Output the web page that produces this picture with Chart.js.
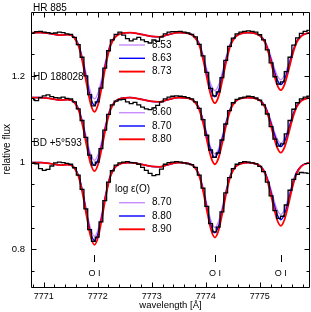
<!DOCTYPE html>
<html><head><meta charset="utf-8">
<script src="https://cdn.jsdelivr.net/npm/chart.js@4/dist/chart.umd.min.js"></script>
<style>html,body{margin:0;padding:0;background:#fff}canvas{display:block}</style>
</head><body>
<canvas id="c" width="311" height="312"></canvas>
<script>
// ---- synthetic spectra (wavelength grid, Angstrom) ----
const modelWave = [7770.77,7770.95,7771.15,7771.30,7771.44,7771.56,7771.65,7771.73,7771.80,7771.87,7771.94,7772.01,7772.08,7772.15,7772.23,7772.32,7772.44,7772.60,7772.80,7773.00,7773.15,7773.30,7773.50,7773.67,7773.79,7773.88,7773.96,7774.03,7774.10,7774.17,7774.24,7774.31,7774.38,7774.46,7774.55,7774.67,7774.78,7774.89,7775.01,7775.10,7775.18,7775.25,7775.32,7775.39,7775.46,7775.53,7775.60,7775.68,7775.77,7775.89,7775.93];

const hrViolet = [1.300,1.300,1.297,1.294,1.2955,1.2908,1.2725,1.2373,1.1975,1.1623,1.147,1.1623,1.1975,1.2373,1.2725,1.2908,1.2985,1.300,1.296,1.291,1.290,1.295,1.300,1.2987,1.292,1.2759,1.2451,1.2102,1.1794,1.166,1.1794,1.2102,1.2451,1.2759,1.292,1.2987,1.300,1.2989,1.2935,1.2804,1.2553,1.227,1.2019,1.191,1.2019,1.227,1.2553,1.2804,1.2935,1.2989,1.300];
const hrBlue = [1.300,1.300,1.297,1.294,1.2953,1.2899,1.2698,1.2311,1.1874,1.1488,1.132,1.1488,1.1874,1.2311,1.2698,1.2899,1.2983,1.300,1.296,1.291,1.290,1.295,1.300,1.2985,1.2911,1.2734,1.2393,1.2008,1.1668,1.152,1.1668,1.2008,1.2393,1.2734,1.2911,1.2985,1.300,1.2988,1.2928,1.2784,1.2508,1.2196,1.192,1.18,1.192,1.2196,1.2508,1.2784,1.2928,1.2988,1.300];
const hrRed = [1.300,1.300,1.297,1.294,1.2952,1.289,1.2671,1.225,1.1774,1.1353,1.117,1.1353,1.1774,1.225,1.2671,1.289,1.2982,1.300,1.296,1.291,1.290,1.295,1.300,1.2984,1.2902,1.2707,1.2332,1.1908,1.1533,1.137,1.1533,1.1908,1.2332,1.2707,1.2902,1.2984,1.300,1.2987,1.292,1.2761,1.2455,1.2109,1.1803,1.167,1.1803,1.2109,1.2455,1.2761,1.292,1.2987,1.300];

const hdViolet = [1.150,1.150,1.147,1.144,1.1455,1.1413,1.1239,1.0905,1.0528,1.0195,1.005,1.0195,1.0528,1.0905,1.1239,1.1413,1.1485,1.150,1.146,1.141,1.140,1.145,1.150,1.1487,1.1422,1.1266,1.0967,1.0629,1.033,1.02,1.033,1.0629,1.0967,1.1266,1.1422,1.1487,1.150,1.1489,1.1437,1.1311,1.1069,1.0796,1.0555,1.045,1.0555,1.0796,1.1069,1.1311,1.1437,1.1489,1.150];
const hdBlue = [1.150,1.150,1.147,1.144,1.1454,1.1406,1.1217,1.0856,1.0448,1.0087,0.993,1.0087,1.0448,1.0856,1.1217,1.1406,1.1484,1.150,1.146,1.141,1.140,1.145,1.150,1.1486,1.1417,1.1252,1.0934,1.0575,1.0258,1.012,1.0258,1.0575,1.0934,1.1252,1.1417,1.1486,1.150,1.1489,1.1432,1.1297,1.1037,1.0743,1.0483,1.037,1.0483,1.0743,1.1037,1.1297,1.1432,1.1489,1.150];
const hdRed = [1.150,1.150,1.147,1.144,1.1453,1.1398,1.1194,1.0803,1.0361,0.997,0.98,0.997,1.0361,1.0803,1.1194,1.1398,1.1483,1.150,1.146,1.141,1.140,1.145,1.150,1.1485,1.1408,1.1223,1.0869,1.0468,1.0114,0.996,1.0114,1.0468,1.0869,1.1223,1.1408,1.1485,1.150,1.1487,1.1424,1.1271,1.0979,1.0649,1.0357,1.023,1.0357,1.0649,1.0979,1.1271,1.1424,1.1487,1.150];

const bdViolet = [1.000,1.000,0.997,0.994,0.9953,0.9898,0.9694,0.9303,0.8861,0.847,0.83,0.847,0.8861,0.9303,0.9694,0.9898,0.9983,1.000,0.996,0.991,0.990,0.995,1.000,0.9985,0.991,0.973,0.9385,0.8995,0.865,0.85,0.865,0.8995,0.9385,0.973,0.991,0.9985,1.000,0.9988,0.9928,0.9784,0.9508,0.9196,0.892,0.88,0.892,0.9196,0.9508,0.9784,0.9928,0.9988,1.000];
const bdBlue = [1.000,1.000,0.997,0.994,0.9952,0.9892,0.9676,0.9262,0.8794,0.838,0.82,0.838,0.8794,0.9262,0.9676,0.9892,0.9982,1.000,0.996,0.991,0.990,0.995,1.000,0.9984,0.9903,0.9708,0.9336,0.8915,0.8542,0.838,0.8542,0.8915,0.9336,0.9708,0.9903,0.9984,1.000,0.9987,0.9921,0.9762,0.9459,0.9116,0.8812,0.868,0.8812,0.9116,0.9459,0.9762,0.9921,0.9987,1.000];
const bdRed = [1.000,1.000,0.997,0.994,0.9951,0.9886,0.9658,0.9221,0.8727,0.829,0.81,0.829,0.8727,0.9221,0.9658,0.9886,0.9981,1.000,0.996,0.991,0.990,0.995,1.000,0.9983,0.9896,0.9689,0.9291,0.8841,0.8443,0.827,0.8443,0.8841,0.9291,0.9689,0.9896,0.9983,1.000,0.9985,0.9912,0.9737,0.9401,0.9022,0.8686,0.854,0.8686,0.9022,0.9401,0.9737,0.9912,0.9985,1.000];

// ---- observed spectra (pixel centres) ----
const obsWave = [7770.80,7770.87,7770.94,7771.01,7771.08,7771.15,7771.22,7771.29,7771.36,7771.43,7771.50,7771.57,7771.64,7771.71,7771.78,7771.85,7771.92,7771.99,7772.06,7772.13,7772.20,7772.27,7772.34,7772.41,7772.48,7772.55,7772.62,7772.69,7772.76,7772.83,7772.90,7772.97,7773.04,7773.11,7773.18,7773.25,7773.32,7773.39,7773.46,7773.53,7773.60,7773.67,7773.74,7773.81,7773.88,7773.95,7774.02,7774.09,7774.16,7774.23,7774.30,7774.37,7774.44,7774.51,7774.58,7774.65,7774.72,7774.79,7774.86,7774.93,7775.00,7775.07,7775.14,7775.21,7775.28,7775.35,7775.42,7775.49,7775.56,7775.63,7775.70,7775.77,7775.84,7775.91];
const hrObs = [1.300,1.302,1.303,1.301,1.300,1.298,1.299,1.301,1.300,1.297,1.296,1.289,1.272,1.243,1.200,1.157,1.131,1.140,1.172,1.218,1.258,1.283,1.296,1.301,1.294,1.286,1.281,1.285,1.289,1.283,1.279,1.276,1.283,1.280,1.290,1.297,1.301,1.302,1.302,1.303,1.301,1.299,1.296,1.290,1.273,1.246,1.208,1.171,1.154,1.163,1.196,1.236,1.268,1.287,1.297,1.301,1.303,1.304,1.303,1.301,1.295,1.283,1.260,1.230,1.198,1.181,1.186,1.210,1.243,1.271,1.288,1.298,1.303,1.305];
const hdObs = [1.145,1.143,1.150,1.154,1.156,1.152,1.150,1.149,1.151,1.148,1.147,1.140,1.124,1.097,1.058,1.017,0.994,1.001,1.032,1.075,1.111,1.133,1.142,1.145,1.146,1.140,1.136,1.139,1.133,1.128,1.124,1.122,1.126,1.132,1.140,1.147,1.151,1.153,1.154,1.153,1.152,1.150,1.147,1.140,1.125,1.099,1.063,1.029,1.012,1.022,1.052,1.089,1.120,1.138,1.146,1.149,1.151,1.153,1.152,1.149,1.144,1.133,1.112,1.083,1.054,1.038,1.043,1.066,1.097,1.123,1.138,1.147,1.151,1.153];
const bdObs = [1.000,0.997,0.986,0.982,0.984,0.992,0.999,1.001,1.000,0.998,0.996,0.988,0.971,0.938,0.893,0.845,0.818,0.828,0.863,0.912,0.955,0.981,0.994,0.999,1.001,1.002,1.000,0.999,0.996,0.989,0.982,0.975,0.970,0.972,0.985,0.996,1.000,1.001,1.002,1.001,0.999,0.997,0.995,0.989,0.971,0.941,0.899,0.859,0.840,0.851,0.886,0.930,0.965,0.986,0.996,1.000,1.002,1.001,0.999,0.997,0.991,0.979,0.955,0.923,0.889,0.871,0.876,0.902,0.936,0.961,0.973,0.977,0.976,0.975];

// ---- axes / labels ----
const xTicks = [7771, 7772, 7773, 7774, 7775];
const xTickLabels = ['7771', '7772', '7773', '7774', '7775'];
const yTicks = [0.8, 1.0, 1.2];
const yTickLabels = ['0.8', '1', '1.2'];
const starNames = ['HR 885', 'HD 188028', 'BD +5\u00b0593'];
const abundHR = ['8.53', '8.63', '8.73'];
const abundHD = ['8.60', '8.70', '8.80'];
const abundBD = ['8.70', '8.80', '8.90'];
const legendTitle = 'log \u03b5(O)';
const oiLines = [7771.94, 7774.17, 7775.39];
const oiLabel = 'O I';

const FONT = '"Liberation Sans", Arial, sans-serif';
const VIOLET = 'rgb(200,140,255)', BLUE = '#0000ff', RED = '#ff0000';

const pts = (w, v) => w.map((xx, i) => ({x: xx, y: v[i]}));
const model = (v, color, width, order) => ({data: pts(modelWave, v), borderColor: color, borderWidth: width, cubicInterpolationMode: 'monotone', pointRadius: 0, fill: false, order});
const obs = v => ({data: pts(obsWave, v), borderColor: '#000', borderWidth: 1.3, stepped: 'middle', pointRadius: 0, fill: false, order: 0});

const decor = {
  id: 'decor',
  afterDatasetsDraw(chart) {
    const {ctx, chartArea: a, scales: {x, y}} = chart;
    ctx.save();
    ctx.strokeStyle = '#000'; ctx.fillStyle = '#000'; ctx.lineWidth = 1;
    const L = Math.round(a.left) + 0.5, R = Math.round(a.right) - 0.5, T = Math.round(a.top) + 0.5, B = Math.round(a.bottom) + 0.5;
    ctx.beginPath();
    ctx.rect(L, T, R - L, B - T);
    for (let i = Math.ceil(x.min * 5); i <= Math.floor(x.max * 5); i++) {
      const px = Math.round(x.getPixelForValue(i / 5)) + 0.5;
      const len = (i % 5 === 0) ? 5 : 3;
      ctx.moveTo(px, B); ctx.lineTo(px, B - len);
      ctx.moveTo(px, T); ctx.lineTo(px, T + len);
    }
    for (let i = Math.ceil(y.min * 20); i <= Math.floor(y.max * 20); i++) {
      const py = Math.round(y.getPixelForValue(i / 20)) + 0.5;
      const len = (i % 4 === 0) ? 5 : 3;
      ctx.moveTo(L, py); ctx.lineTo(L + len, py);
      ctx.moveTo(R, py); ctx.lineTo(R - len, py);
    }
    oiLines.forEach(w => {
      const px = Math.round(x.getPixelForValue(w)) + 0.5;
      ctx.moveTo(px, 255); ctx.lineTo(px, 262);
    });
    ctx.stroke();
    ctx.textBaseline = 'middle';
    ctx.textAlign = 'center';
    ctx.font = '9px ' + FONT;
    oiLines.forEach(w => ctx.fillText(oiLabel, x.getPixelForValue(w), 273.5));
    ctx.textAlign = 'left';
    ctx.font = '10px ' + FONT;
    const nameY = [8, 77, 143.5];
    starNames.forEach((s, i) => ctx.fillText(s, a.left + 2, nameY[i]));
    const blocks = [[abundHR, 45], [abundHD, 112.7], [abundBD, 202.7]];
    const cols = [[VIOLET, 1.4], [BLUE, 1.4], [RED, 1.9]];
    blocks.forEach(([labs, y0]) => {
      labs.forEach((t, j) => {
        const yy = y0 + j * 13.3;
        ctx.strokeStyle = cols[j][0]; ctx.lineWidth = cols[j][1];
        ctx.beginPath(); ctx.moveTo(119, yy); ctx.lineTo(145, yy); ctx.stroke();
        ctx.fillStyle = '#000';
        ctx.fillText(t, 152, yy);
      });
    });
    ctx.fillText(legendTitle, 115, 189.3);
    ctx.restore();
  }
};

new Chart(document.getElementById('c'), {
  type: 'line',
  data: {
    datasets: [
      obs(hrObs), obs(hdObs), obs(bdObs),
      model(hrRed, RED, 1.8, 1), model(hdRed, RED, 1.8, 1), model(bdRed, RED, 1.8, 1),
      model(hrBlue, BLUE, 1.4, 2), model(hdBlue, BLUE, 1.4, 2), model(bdBlue, BLUE, 1.4, 2),
      model(hrViolet, VIOLET, 1.3, 3), model(hdViolet, VIOLET, 1.3, 3), model(bdViolet, VIOLET, 1.3, 3)
    ]
  },
  options: {
    responsive: false, animation: false, devicePixelRatio: 1,
    layout: {padding: {top: 0, right: 1, left: 0, bottom: 0}},
    plugins: {legend: {display: false}, tooltip: {enabled: false}},
    scales: {
      x: {
        type: 'linear', min: 7770.765, max: 7775.931,
        grid: {display: false, drawTicks: false}, border: {display: false},
        afterBuildTicks: s => { s.ticks = xTicks.map(v => ({value: v})); },
        afterFit: s => { s.height = 25; },
        ticks: {padding: 4, autoSkip: false, maxRotation: 0, color: '#000', font: {size: 9, family: FONT}, callback: (v, i) => xTickLabels[i]},
        title: {display: true, text: 'wavelength [\u00c5]', color: '#000', font: {size: 9.5, family: FONT}, padding: {top: 0, bottom: 1}}
      },
      y: {
        type: 'linear', min: 0.7127, max: 1.3482,
        grid: {display: false, drawTicks: false}, border: {display: false},
        afterBuildTicks: s => { s.ticks = yTicks.map(v => ({value: v})); },
        afterFit: s => { s.width = 31; },
        ticks: {padding: 6, autoSkip: false, color: '#000', font: {size: 9.5, family: FONT}, callback: (v, i) => yTickLabels[i]},
        title: {display: true, text: 'relative flux', color: '#000', font: {size: 10, family: FONT}, padding: {top: 1, bottom: 0}}
      }
    }
  },
  plugins: [decor]
});
</script>
</body></html>
